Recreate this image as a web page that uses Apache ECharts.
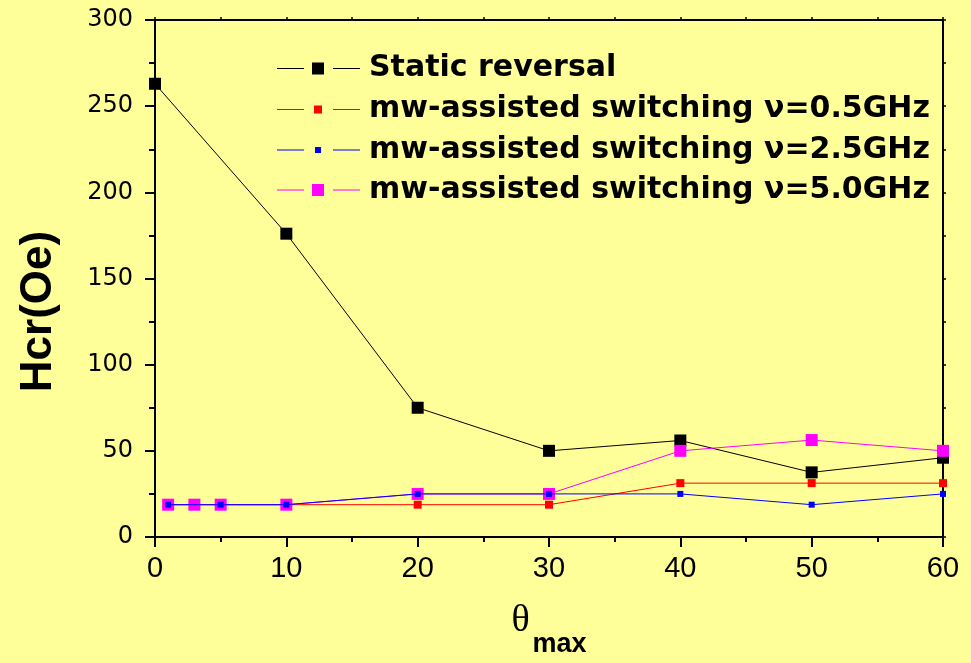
<!DOCTYPE html>
<html>
<head>
<meta charset="utf-8">
<script src="https://cdn.jsdelivr.net/npm/echarts@6/dist/echarts.min.js"></script>
<style>
html,body{margin:0;padding:0;background:#FFFF99;overflow:hidden;}
#c{width:971px;height:663px;}
</style>
</head>
<body>
<div id="c"></div>
<script>
// ---- data ----
const seriesNames = [
  'Static reversal',
  'mw-assisted switching \u03bd=0.5GHz',
  'mw-assisted switching \u03bd=2.5GHz',
  'mw-assisted switching \u03bd=5.0GHz'
];
const thetaStatic = [0, 10, 20, 30, 40, 50, 60];
const hcrStatic   = [263, 176, 75, 50, 56, 37.5, 46];
const theta05 = [1, 3, 5, 10, 20, 30, 40, 50, 60];
const hcr05   = [18.75, 18.75, 18.75, 18.75, 18.75, 18.75, 31.25, 31.25, 31.25];
const theta25 = [1, 5, 10, 20, 30, 40, 50, 60];
const hcr25   = [18.75, 18.75, 18.75, 25, 25, 25, 18.75, 25];
const theta50 = [1, 3, 5, 10, 20, 30, 40, 50, 60];
const hcr50   = [18.75, 18.75, 18.75, 18.75, 25, 25, 50, 56.25, 50];
const xTicks = [0, 10, 20, 30, 40, 50, 60];
const yTicks = [0, 50, 100, 150, 200, 250, 300];

const colors = ['#000000', '#FF0000', '#0000FF', '#FF00FF'];
const sizes = [12, 8, 6, 12];

function pairs(xs, ys){ return xs.map((x,i)=>[x, ys[i]]); }

function iconPath(s){
  const m = s/2 - 0.5;
  return 'path://M0,' + m + 'h27v1h-27z M' + (41 - s/2) + ',0h' + s + 'v' + s + 'h-' + s + 'z M56,' + m + 'h27v1h-27z';
}

function mkSeries(idx, xs, ys, z){
  return {
    name: seriesNames[idx],
    type: 'line',
    data: pairs(xs, ys),
    symbol: 'rect',
    symbolSize: sizes[idx],
    showSymbol: true,
    z: z,
    itemStyle: {color: colors[idx], borderWidth: 0},
    lineStyle: {color: colors[idx], width: 1},
    emphasis: {disabled: true},
    animation: false
  };
}

const legendCenters = [68.5, 109.5, 150, 190];
const legends = seriesNames.map((n, i) => ({
  data: [{name: n, icon: iconPath(sizes[i])}],
  left: 277,
  top: legendCenters[i] - 15,
  padding: 0,
  itemWidth: 83,
  itemHeight: sizes[i],
  selectedMode: false,
  itemStyle: {borderWidth: 0},
  textStyle: {fontFamily: 'DejaVu Sans', fontWeight: 'bold', fontSize: 30, lineHeight: 30, color: '#000', padding: [0,0,0,4]}
}));

const axisLineStyle = {color: '#000', width: 2};
const chart = echarts.init(document.getElementById('c'), null, {width: 971, height: 663});
chart.setOption({
  backgroundColor: '#FFFF99',
  animation: false,
  legend: legends,
  grid: {left: 155, right: 28, top: 20, bottom: 117, containLabel: false},
  xAxis: [{
    type: 'value', position: 'bottom', min: xTicks[0], max: xTicks[xTicks.length-1], interval: 10,
    axisLine: {show: true, onZero: false, lineStyle: axisLineStyle},
    axisTick: {show: true, length: 10, lineStyle: {width: 2, color: '#000'}},
    minorTick: {show: true, splitNumber: 2, length: 5, lineStyle: {width: 2, color: '#000'}},
    splitLine: {show: false},
    axisLabel: {fontFamily: 'Liberation Sans', fontSize: 29, color: '#000', margin: 17},
    name: '{t|\u03b8}{s|max}', nameLocation: 'middle', nameGap: 65,
    nameTextStyle: {
      rich: {
        t: {fontFamily: 'Liberation Serif', fontSize: 38, lineHeight: 38, color: '#000', verticalAlign: 'top'},
        s: {fontFamily: 'Liberation Sans', fontWeight: 'bold', fontSize: 27, lineHeight: 27, color: '#000', padding: [29,0,0,3], verticalAlign: 'top'}
      }
    }
  }, {
    type: 'value', position: 'top', min: 0, max: 60, interval: 5,
    axisLine: {show: true, onZero: false, lineStyle: axisLineStyle},
    axisTick: {show: true, length: 3, lineStyle: {width: 1.5, color: '#000'}},
    axisLabel: {show: false}, splitLine: {show: false}
  }],
  yAxis: [{
    type: 'value', position: 'left', min: yTicks[0], max: yTicks[yTicks.length-1], interval: 50,
    axisLine: {show: true, onZero: false, lineStyle: axisLineStyle},
    axisTick: {show: true, length: 10, lineStyle: {width: 2, color: '#000'}},
    minorTick: {show: true, splitNumber: 2, length: 6, lineStyle: {width: 2, color: '#000'}},
    splitLine: {show: false},
    axisLabel: {fontFamily: 'DejaVu Sans', fontSize: 24, color: '#000', margin: 22},
    name: 'Hcr(Oe)', nameLocation: 'middle', nameGap: 94, nameRotate: 90,
    nameTextStyle: {fontFamily: 'Liberation Sans', fontWeight: 'bold', fontSize: 44, color: '#000', padding: [0,66,0,0]}
  }, {
    type: 'value', position: 'right', min: 0, max: 300, interval: 25,
    axisLine: {show: true, onZero: false, lineStyle: axisLineStyle},
    axisTick: {show: true, length: 3, lineStyle: {width: 1.5, color: '#000'}},
    axisLabel: {show: false}, splitLine: {show: false}
  }],
  series: [
    mkSeries(0, thetaStatic, hcrStatic, 2),
    mkSeries(1, theta05, hcr05, 3),
    mkSeries(3, theta50, hcr50, 4),
    mkSeries(2, theta25, hcr25, 5)
  ]
});
</script>
</body>
</html>
